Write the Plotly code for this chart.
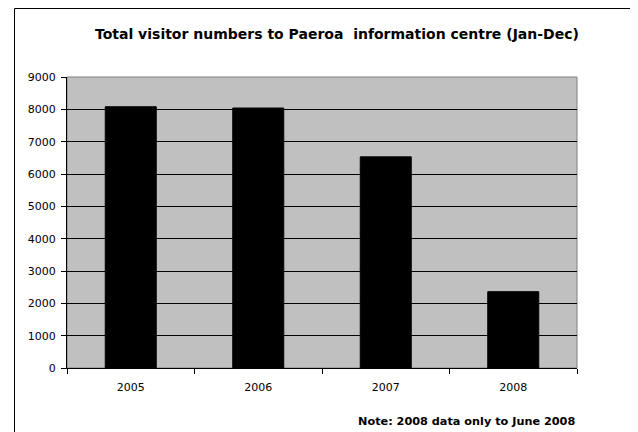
import plotly.graph_objects as go

years = ["2005", "2006", "2007", "2008"]
visitors = [8080, 8040, 6530, 2360]
y_ticks = [0, 1000, 2000, 3000, 4000, 5000, 6000, 7000, 8000, 9000]

title_text = "Total visitor numbers to Paeroa  information centre (Jan-Dec)"
note_text = "Note: 2008 data only to June 2008"

FONT = "DejaVu Sans"

fig = go.Figure(
    go.Bar(
        x=years,
        y=visitors,
        width=0.4,
        marker=dict(color="#000000", line=dict(color="#000000", width=1)),
    )
)

# page body has an 8px margin, so the figure is drawn 8px in from the corner
OFF = 8
W, H = 638 - OFF, 432 - OFF
L = 67 - OFF
T = 77 - OFF
R = W - (577 - OFF)
B = H - (368 - OFF)
ph = H - T - B
pw = W - L - R


def px_x(x):
    return (x - OFF - L) / pw


def px_y(y):
    return 1 - (y - OFF - T) / ph


fig.update_layout(
    width=W,
    height=H,
    margin=dict(l=L, r=R, t=T, b=B),
    paper_bgcolor="#FFFFFF",
    plot_bgcolor="#C0C0C0",
    showlegend=False,
    font=dict(family=FONT, size=11, color="#000000"),
    xaxis=dict(
        type="category",
        tickson="boundaries",
        ticks="outside",
        ticklen=5,
        tickcolor="#000000",
        tickwidth=1,
        ticklabelstandoff=9,
        showline=True,
        linecolor="#000000",
        linewidth=1,
        showgrid=False,
        tickfont=dict(family=FONT, size=11),
        fixedrange=True,
    ),
    yaxis=dict(
        range=[0, 9000],
        tickvals=y_ticks,
        ticktext=[str(v) for v in y_ticks],
        ticks="outside",
        ticklen=5,
        tickcolor="#000000",
        ticklabelstandoff=3,
        showline=True,
        linecolor="#000000",
        linewidth=1,
        showgrid=True,
        gridcolor="#000000",
        gridwidth=1,
        zeroline=False,
        tickfont=dict(family=FONT, size=11),
        fixedrange=True,
    ),
    shapes=[
        dict(type="rect", xref="paper", yref="paper", x0=0, x1=1, y0=0, y1=1,
             line=dict(color="#808080", width=1), layer="below"),
        dict(type="rect", xref="paper", yref="paper",
             x0=px_x(14.5), x1=2.0, y0=px_y(8.5), y1=-1.0,
             line=dict(color="#000000", width=1), fillcolor="rgba(0,0,0,0)"),
    ],
    annotations=[
        dict(text="<b>" + title_text + "</b>", xref="paper", yref="paper",
             x=px_x(337), y=px_y(34), xanchor="center", yanchor="middle",
             showarrow=False, font=dict(family=FONT, size=14, color="#000000")),
        dict(text="<b>" + note_text + "</b>", xref="paper", yref="paper",
             x=px_x(577), y=px_y(421), xanchor="right", yanchor="middle",
             showarrow=False, font=dict(family=FONT, size=11.25, color="#000000")),
    ],
)

fig.write_html("out.html")
